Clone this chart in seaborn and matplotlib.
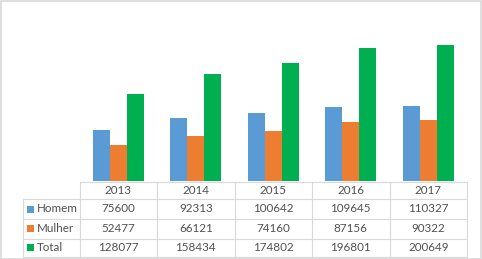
import matplotlib
matplotlib.use("Agg")
import matplotlib.pyplot as plt
import seaborn as sns
import pandas as pd
from matplotlib.lines import Line2D
from matplotlib.patches import Rectangle

years = ["2013", "2014", "2015", "2016", "2017"]
series = ["Homem", "Mulher", "Total"]
homem = [75600, 92313, 100642, 109645, 110327]
mulher = [52477, 66121, 74160, 87156, 90322]
total = [128077, 158434, 174802, 196801, 200649]
colors = ["#5B9BD5", "#ED7D31", "#00B050"]

values = {"Homem": homem, "Mulher": mulher, "Total": total}
df = pd.DataFrame([(y, s, values[s][i]) for s in series for i, y in enumerate(years)],
                  columns=["year", "series", "value"])

sns.set_theme(style="white")
plt.rcParams["font.family"] = ["Lato", "DejaVu Sans"]

W, H = 482, 259
fig = plt.figure(figsize=(W / 100, H / 100), dpi=100)

def fx(x):
    return x / W

def fy(y):
    return 1 - y / H

x0, x1 = 79.5, 467
ybase, ytop = 180.5, 12.0
ax = fig.add_axes([fx(x0), fy(ybase), (x1 - x0) / W, (ybase - ytop) / H])
sns.barplot(data=df, x="year", y="value", hue="series", palette=colors,
            width=0.66, gap=0, ax=ax, legend=False, saturation=1,
            edgecolor="none")
ax.set_ylim(0, 250000)
ax.set_xlim(-0.5, 4.5)
ax.axis("off")

grid = "#D9D9D9"
txt = "#505050"
fs = 8.4

def hline(y, xa, xb):
    fig.add_artist(Line2D([fx(xa), fx(xb)], [fy(y), fy(y)], color=grid, lw=0.8))

def vline(x, ya, yb):
    fig.add_artist(Line2D([fx(x), fx(x)], [fy(ya), fy(yb)], color=grid, lw=0.8))

rows = [182, 199, 219, 238.5, 257]
colw = (x1 - x0) / len(years)
hline(rows[0], x0, x1)
for r in rows[1:]:
    hline(r, 23, x1)
vline(23, rows[1], rows[-1])
for i in range(len(years) + 1):
    vline(x0 + i * colw, rows[0], rows[-1])

for i, y in enumerate(years):
    cx = x0 + (i + 0.5) * colw
    fig.text(fx(cx), fy((rows[0] + rows[1]) / 2), y, ha="center", va="center",
             fontsize=fs, color=txt)
    for j, s in enumerate(series):
        cy = (rows[j + 1] + rows[j + 2]) / 2
        fig.text(fx(cx), fy(cy), str(values[s][i]), ha="center", va="center",
                 fontsize=fs, color=txt)

for j, s in enumerate(series):
    cy = (rows[j + 1] + rows[j + 2]) / 2
    fig.add_artist(Rectangle((fx(27), fy(cy + 3.5)), 7 / W, 7 / H,
                             facecolor=colors[j], edgecolor="none"))
    fig.text(fx(36.5), fy(cy), s, ha="left", va="center", fontsize=fs, color=txt)

fig.add_artist(Rectangle((fx(0.5), fy(258.5)), (W - 2) / W, (H - 1.5) / H,
                         facecolor="none", edgecolor=grid, lw=1.2))

fig.savefig("out.png", dpi=100)
